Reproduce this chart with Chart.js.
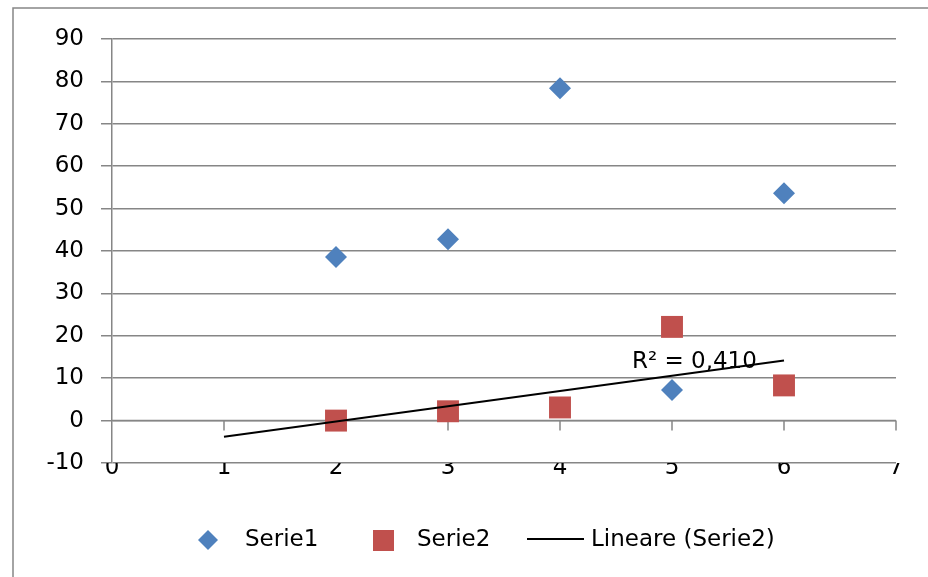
<!DOCTYPE html>
<html>
<head>
<meta charset="utf-8">
<script src="https://cdn.jsdelivr.net/npm/chart.js@4.4.1/dist/chart.umd.min.js"></script>
<style>
  html, body { margin: 0; padding: 0; background: #fff; }
  #wrap { width: 928px; height: 577px; }
</style>
</head>
<body>
<div id="wrap"><canvas id="scatterChart" width="928" height="577"></canvas></div>
<script>
// data
const xValues = [2, 3, 4, 5, 6];
const serie1 = [38.6, 42.8, 78.4, 7.2, 53.6];
const serie2 = [0, 2.2, 3.1, 22.1, 8.3];
const trendX = [1, 6];
const trendY = [-3.8, 14.2];
const r2Text = "R² = 0,410";
const legendNames = ["Serie1", "Serie2", "Lineare (Serie2)"];

const blue = "#4F81BD";
const red = "#C0504D";
const gridGray = "#868686";
const fontFamily = "'DejaVu Sans', sans-serif";

const toPoints = (xs, ys) => xs.map((x, i) => ({ x: x, y: ys[i] }));

// frame, x axis at y=0, R² label and legend
const excelLook = {
  id: "excelLook",
  beforeDraw(chart) {
    const c = chart.ctx;
    c.save();
    c.fillStyle = "#fff";
    c.fillRect(0, 0, chart.width, chart.height);
    c.strokeStyle = gridGray;
    c.lineWidth = 1.5;
    c.beginPath();
    c.moveTo(13, chart.height);
    c.lineTo(13, 8);
    c.lineTo(chart.width, 8);
    c.stroke();
    c.restore();
  },
  beforeDatasetsDraw(chart) {
    const c = chart.ctx;
    const xs = chart.scales.x;
    const ys = chart.scales.y;
    const y0 = ys.getPixelForValue(0);
    c.save();
    c.strokeStyle = gridGray;
    c.lineWidth = 1.5;
    c.beginPath();
    c.moveTo(xs.getPixelForValue(0), y0);
    c.lineTo(xs.getPixelForValue(7), y0);
    for (let i = 1; i <= 7; i++) {
      const px = xs.getPixelForValue(i);
      c.moveTo(px, y0);
      c.lineTo(px, y0 + 10);
    }
    c.stroke();
    c.restore();
  },
  afterDatasetsDraw(chart) {
    const c = chart.ctx;
    const xs = chart.scales.x;
    const ys = chart.scales.y;
    c.save();
    c.font = "23px " + fontFamily;
    c.fillStyle = "#000";
    c.textAlign = "center";
    c.textBaseline = "middle";
    c.fillText(r2Text, xs.getPixelForValue(5.2), ys.getPixelForValue(13.8));
    c.restore();
  },
  afterDraw(chart) {
    const c = chart.ctx;
    const ly = 540;
    c.save();
    c.font = "23px " + fontFamily;
    c.textAlign = "left";
    c.textBaseline = "middle";
    // Serie1 diamond
    c.fillStyle = blue;
    c.beginPath();
    c.moveTo(208, ly - 10);
    c.lineTo(218, ly);
    c.lineTo(208, ly + 10);
    c.lineTo(198, ly);
    c.closePath();
    c.fill();
    // Serie2 square
    c.fillStyle = red;
    c.fillRect(373, ly - 10, 21, 21);
    // trend line
    c.strokeStyle = "#000";
    c.lineWidth = 2;
    c.beginPath();
    c.moveTo(527, ly - 1);
    c.lineTo(584, ly - 1);
    c.stroke();
    c.fillStyle = "#000";
    c.fillText(legendNames[0], 245, ly);
    c.fillText(legendNames[1], 417, ly);
    c.fillText(legendNames[2], 591, ly);
    c.restore();
  }
};

const ctx = document.getElementById("scatterChart").getContext("2d");
const scatterChart = new Chart(ctx, {
  type: "scatter",
  data: {
    datasets: [
      {
        label: legendNames[2],
        data: toPoints(trendX, trendY),
        showLine: true,
        borderColor: "#000",
        borderWidth: 2,
        pointRadius: 0,
        order: 0,
      },
      {
        label: legendNames[0],
        data: toPoints(xValues, serie1),
        pointStyle: "rectRot",
        pointRadius: 11,
        backgroundColor: blue,
        borderWidth: 0,
        order: 1,
      },
      {
        label: legendNames[1],
        data: toPoints(xValues, serie2),
        pointStyle: "rect",
        pointRadius: 15.5,
        backgroundColor: red,
        borderWidth: 0,
        order: 2,
      },
    ],
  },
  options: {
    responsive: false,
    animation: false,
    events: [],
    layout: {
      padding: { top: 39, right: 32, left: 0, bottom: 0 },
    },
    plugins: {
      legend: { display: false },
      tooltip: { enabled: false },
    },
    scales: {
      x: {
        type: "linear",
        min: 0,
        max: 7,
        grid: { display: false, drawTicks: false },
        border: { display: false },
        ticks: {
          stepSize: 1,
          padding: -9,
          color: "#000",
          font: { family: fontFamily, size: 23 },
        },
        afterFit(scale) {
          scale.height = 114;
        },
      },
      y: {
        min: -10,
        max: 90,
        grid: {
          color: gridGray,
          lineWidth: 1.5,
          tickLength: 11,
        },
        border: { display: true, color: gridGray, width: 1.5 },
        ticks: {
          stepSize: 10,
          padding: 17,
          color: "#000",
          font: { family: fontFamily, size: 23 },
        },
        afterFit(scale) {
          scale.width = 112;
        },
      },
    },
  },
  plugins: [excelLook],
});
</script>
</body>
</html>
